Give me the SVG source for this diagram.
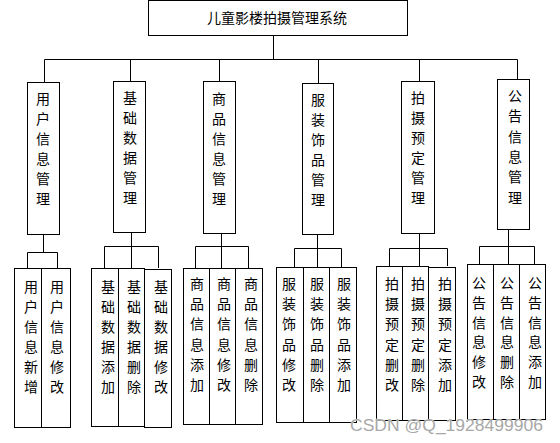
<svg xmlns="http://www.w3.org/2000/svg" width="560" height="443" viewBox="0 0 560 443">
<style>
rect{fill:#fff;stroke:#000;stroke-width:1}
.c path{fill:none;stroke:#000;stroke-width:1}
text{font-family:"Noto Sans CJK SC","Noto Sans",sans-serif;font-size:14px;fill:#000;text-anchor:middle;dominant-baseline:central}
.wm{font-family:"Liberation Sans",Arial,sans-serif;font-size:17px;fill:#a8a8a8;text-anchor:start;dominant-baseline:alphabetic;stroke:#fff;stroke-width:0.6;paint-order:stroke}
</style>
<rect x="0" y="0" width="560" height="443" style="stroke:none"/>
<g class="c" id="connectors">
<path d="M273.5 36V59.5M44.5 59.5H517.5M44.5 59.5V82M130.5 59.5V81M219.5 59.5V81M318.5 59.5V83M419.5 59.5V81M517.5 59.5V79"/>
<path d="M43.5 234V252.5M27.5 252.5H57.5M27.5 252.5V268M57.5 252.5V268"/>
<path d="M131.5 232V246.5M104.5 246.5H158.5M104.5 246.5V268M131.5 246.5V268M158.5 246.5V268"/>
<path d="M221.5 233V246.5M195.5 246.5H248.5M195.5 246.5V268M221.5 246.5V268M248.5 246.5V268"/>
<path d="M317.5 234V248.5M294.5 248.5H341.5M294.5 248.5V267M317.5 248.5V267M341.5 248.5V267"/>
<path d="M419.5 233V248.5M389.5 248.5H447.5M389.5 248.5V266M419.5 248.5V266M447.5 248.5V266"/>
<path d="M508.5 230V246.5M479.5 246.5H534.5M479.5 246.5V264M508.5 246.5V264M534.5 246.5V264"/>
</g>
<g id="root"><rect x="148.5" y="0.5" width="259" height="35"/><text x="277" y="17">儿童影楼拍摄管理系统</text></g>
<g id="m1"><rect x="27.5" y="82.5" width="32" height="152"/><text><tspan x="43" y="98">用</tspan><tspan x="43" dy="20">户</tspan><tspan x="43" dy="20">信</tspan><tspan x="43" dy="20">息</tspan><tspan x="43" dy="20">管</tspan><tspan x="43" dy="20">理</tspan></text></g>
<g id="m2"><rect x="113.5" y="81.5" width="32" height="151"/><text><tspan x="130" y="97">基</tspan><tspan x="130" dy="20">础</tspan><tspan x="130" dy="20">数</tspan><tspan x="130" dy="20">据</tspan><tspan x="130" dy="20">管</tspan><tspan x="130" dy="20">理</tspan></text></g>
<g id="m3"><rect x="203.5" y="81.5" width="32" height="152"/><text><tspan x="219" y="98">商</tspan><tspan x="219" dy="20">品</tspan><tspan x="219" dy="20">信</tspan><tspan x="219" dy="20">息</tspan><tspan x="219" dy="20">管</tspan><tspan x="219" dy="20">理</tspan></text></g>
<g id="m4"><rect x="302.5" y="83.5" width="31" height="151"/><text><tspan x="318" y="99">服</tspan><tspan x="318" dy="20">装</tspan><tspan x="318" dy="20">饰</tspan><tspan x="318" dy="20">品</tspan><tspan x="318" dy="20">管</tspan><tspan x="318" dy="20">理</tspan></text></g>
<g id="m5"><rect x="401.5" y="81.5" width="33" height="152"/><text><tspan x="418" y="97">拍</tspan><tspan x="418" dy="20">摄</tspan><tspan x="418" dy="20">预</tspan><tspan x="418" dy="20">定</tspan><tspan x="418" dy="20">管</tspan><tspan x="418" dy="20">理</tspan></text></g>
<g id="m6"><rect x="497.5" y="79.5" width="32" height="150"/><text><tspan x="515" y="95">公</tspan><tspan x="515" dy="20.3">告</tspan><tspan x="515" dy="20.3">信</tspan><tspan x="515" dy="20.3">息</tspan><tspan x="515" dy="20.3">管</tspan><tspan x="515" dy="20.3">理</tspan></text></g>

<g id="s1a"><rect x="14.5" y="268.5" width="27" height="159"/><text><tspan x="31" y="286">用</tspan><tspan x="31" dy="20">户</tspan><tspan x="31" dy="20">信</tspan><tspan x="31" dy="20">息</tspan><tspan x="31" dy="20">新</tspan><tspan x="31" dy="20">增</tspan></text></g>
<g id="s1b"><rect x="41.5" y="268.5" width="29" height="159"/><text><tspan x="57" y="286">用</tspan><tspan x="57" dy="20">户</tspan><tspan x="57" dy="20">信</tspan><tspan x="57" dy="20">息</tspan><tspan x="57" dy="20">修</tspan><tspan x="57" dy="20">改</tspan></text></g>

<g id="s2a"><rect x="91.5" y="268.5" width="27" height="158"/><text><tspan x="108" y="286">基</tspan><tspan x="108" dy="20">础</tspan><tspan x="108" dy="20">数</tspan><tspan x="108" dy="20">据</tspan><tspan x="108" dy="20">添</tspan><tspan x="108" dy="20">加</tspan></text></g>
<g id="s2b"><rect x="118.5" y="268.5" width="26" height="158"/><text><tspan x="134" y="286">基</tspan><tspan x="134" dy="20">础</tspan><tspan x="134" dy="20">数</tspan><tspan x="134" dy="20">据</tspan><tspan x="134" dy="20">删</tspan><tspan x="134" dy="20">除</tspan></text></g>
<g id="s2c"><rect x="144.5" y="269.5" width="27" height="158"/><text><tspan x="161" y="286">基</tspan><tspan x="161" dy="20">础</tspan><tspan x="161" dy="20">数</tspan><tspan x="161" dy="20">据</tspan><tspan x="161" dy="20">修</tspan><tspan x="161" dy="20">改</tspan></text></g>

<g id="s3a"><rect x="183.5" y="268.5" width="26" height="156"/><text><tspan x="197" y="283">商</tspan><tspan x="197" dy="20.2">品</tspan><tspan x="197" dy="20.2">信</tspan><tspan x="197" dy="20.2">息</tspan><tspan x="197" dy="20.2">添</tspan><tspan x="197" dy="20.2">加</tspan></text></g>
<g id="s3b"><rect x="209.5" y="268.5" width="26" height="156"/><text><tspan x="224" y="283">商</tspan><tspan x="224" dy="20.2">品</tspan><tspan x="224" dy="20.2">信</tspan><tspan x="224" dy="20.2">息</tspan><tspan x="224" dy="20.2">修</tspan><tspan x="224" dy="20.2">改</tspan></text></g>
<g id="s3c"><rect x="235.5" y="268.5" width="27" height="156"/><text><tspan x="251" y="283">商</tspan><tspan x="251" dy="20.2">品</tspan><tspan x="251" dy="20.2">信</tspan><tspan x="251" dy="20.2">息</tspan><tspan x="251" dy="20.2">删</tspan><tspan x="251" dy="20.2">除</tspan></text></g>

<g id="s4a"><rect x="276.5" y="267.5" width="27" height="155"/><text><tspan x="289" y="283">服</tspan><tspan x="289" dy="20.2">装</tspan><tspan x="289" dy="20.2">饰</tspan><tspan x="289" dy="20.2">品</tspan><tspan x="289" dy="20.2">修</tspan><tspan x="289" dy="20.2">改</tspan></text></g>
<g id="s4b"><rect x="303.5" y="267.5" width="26" height="155"/><text><tspan x="317" y="283">服</tspan><tspan x="317" dy="20.2">装</tspan><tspan x="317" dy="20.2">饰</tspan><tspan x="317" dy="20.2">品</tspan><tspan x="317" dy="20.2">删</tspan><tspan x="317" dy="20.2">除</tspan></text></g>
<g id="s4c"><rect x="329.5" y="267.5" width="27" height="155"/><text><tspan x="344" y="283">服</tspan><tspan x="344" dy="20.2">装</tspan><tspan x="344" dy="20.2">饰</tspan><tspan x="344" dy="20.2">品</tspan><tspan x="344" dy="20.2">添</tspan><tspan x="344" dy="20.2">加</tspan></text></g>

<g id="s5a"><rect x="376.5" y="266.5" width="26" height="154"/><text><tspan x="392" y="283">拍</tspan><tspan x="392" dy="20.2">摄</tspan><tspan x="392" dy="20.2">预</tspan><tspan x="392" dy="20.2">定</tspan><tspan x="392" dy="20.2">删</tspan><tspan x="392" dy="20.2">改</tspan></text></g>
<g id="s5b"><rect x="402.5" y="266.5" width="26" height="154"/><text><tspan x="418" y="283">拍</tspan><tspan x="418" dy="20.2">摄</tspan><tspan x="418" dy="20.2">预</tspan><tspan x="418" dy="20.2">定</tspan><tspan x="418" dy="20.2">删</tspan><tspan x="418" dy="20.2">除</tspan></text></g>
<g id="s5c"><rect x="428.5" y="267.5" width="27" height="153"/><text><tspan x="445" y="283">拍</tspan><tspan x="445" dy="20.2">摄</tspan><tspan x="445" dy="20.2">预</tspan><tspan x="445" dy="20.2">定</tspan><tspan x="445" dy="20.2">添</tspan><tspan x="445" dy="20.2">加</tspan></text></g>

<g id="s6a"><rect x="467.5" y="264.5" width="26" height="155"/><text><tspan x="479" y="282">公</tspan><tspan x="479" dy="19.8">告</tspan><tspan x="479" dy="19.8">信</tspan><tspan x="479" dy="19.8">息</tspan><tspan x="479" dy="19.8">修</tspan><tspan x="479" dy="19.8">改</tspan></text></g>
<g id="s6b"><rect x="493.5" y="264.5" width="26" height="155"/><text><tspan x="507" y="282">公</tspan><tspan x="507" dy="19.8">告</tspan><tspan x="507" dy="19.8">信</tspan><tspan x="507" dy="19.8">息</tspan><tspan x="507" dy="19.8">删</tspan><tspan x="507" dy="19.8">除</tspan></text></g>
<g id="s6c"><rect x="519.5" y="264.5" width="26" height="155"/><text><tspan x="535" y="282">公</tspan><tspan x="535" dy="19.8">告</tspan><tspan x="535" dy="19.8">信</tspan><tspan x="535" dy="19.8">息</tspan><tspan x="535" dy="19.8">添</tspan><tspan x="535" dy="19.8">加</tspan></text></g>

<text class="wm" x="350" y="431" textLength="193" lengthAdjust="spacingAndGlyphs">CSDN @Q_1928499906</text>
</svg>
